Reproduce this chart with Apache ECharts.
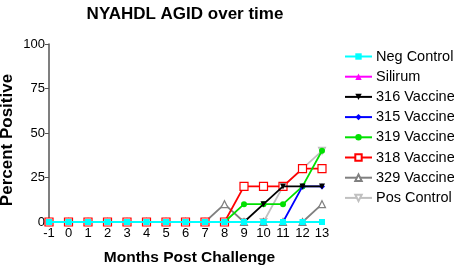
<!DOCTYPE html>
<html><head><meta charset="utf-8">
<script src="https://cdn.jsdelivr.net/npm/echarts@6/dist/echarts.min.js"></script>
<style>html,body{margin:0;padding:0;background:#fff}#c{width:454px;height:268px}</style>
</head><body><div id="c"></div>
<script>
var months = [-1,0,1,2,3,4,5,6,7,8,9,10,11,12,13];
var yTicks = [0,25,50,75,100];
var negControl = [0,0,0,0,0,0,0,0,0,0,0,0,0,0,0];
var silirum    = [0,0,0,0,0,0,0,0,0,0,0,0,0,0,0];
var vac316     = [0,0,0,0,0,0,0,0,0,0,0,10,20,20,20];
var vac315     = [0,0,0,0,0,0,0,0,0,0,0,0,0,20,20];
var vac319     = [0,0,0,0,0,0,0,0,0,0,10,10,10,20,40];
var vac318     = [0,0,0,0,0,0,0,0,0,0,20,20,20,30,30];
var vac329     = [0,0,0,0,0,0,0,0,0,10,0,0,0,0,10];
var posControl = [0,0,0,0,0,0,0,0,0,0,0,0,20,30,40];

var FONT = 'Liberation Sans, Arial, sans-serif';
function pts(arr){ return months.map(function(m,i){return [m, arr[i]];}); }
function mk(name, arr, color, symbol, size, open, z){
  return {
    name: name, type: 'line', data: pts(arr), symbol: symbol, symbolSize: size,
    z: z,
    lineStyle: {color: color, width: 1.8},
    itemStyle: {color: open ? '#fff' : color, borderColor: color, borderWidth: open ? 1.2 : 0},
    emphasis: {disabled: true}, animation: false
  };
}
var DOWN = 'path://M0,0 L10,0 L5,9 Z';
var series = [
  mk('Pos Control', posControl, '#c0c0c0', DOWN, 7, true, 2),
  mk('329 Vaccine', vac329, '#808080', 'triangle', 7, true, 3),
  mk('318 Vaccine', vac318, '#ff0000', 'rect', 8, true, 4),
  mk('319 Vaccine', vac319, '#00e000', 'circle', 6, false, 5),
  mk('315 Vaccine', vac315, '#0000ff', 'diamond', 6, false, 6),
  mk('316 Vaccine', vac316, '#000000', DOWN, 6, false, 7),
  mk('Silirum', silirum, '#ff00ff', 'triangle', 6, false, 8),
  mk('Neg Control', negControl, '#00ffff', 'rect', 6, false, 9)
];
var chart = echarts.init(document.getElementById('c'), null, {renderer:'canvas'});
chart.setOption({
  animation: false,
  textStyle: {fontFamily: FONT},
  title: {
    text: 'NYAHDL AGID over time', left: 180, top: 1, textAlign: 'center',
    textStyle: {fontSize: 17, fontWeight: 'bold', color: '#000', fontFamily: FONT}
  },
  legend: {
    orient: 'vertical', left: 339, top: 44, itemGap: 5.2, itemWidth: 27, itemHeight: 8,
    data: ['Neg Control','Silirum','316 Vaccine','315 Vaccine','319 Vaccine','318 Vaccine','329 Vaccine','Pos Control'],
    textStyle: {fontSize: 14.5, color: '#000', padding: [0,0,0,-1], fontFamily: FONT}
  },
  grid: {left: 49, right: 132, top: 44, bottom: 46, containLabel: false, outerBoundsMode: 'none'},
  xAxis: {
    type: 'value', min: -1, max: 13, interval: 1,
    name: 'Months Post Challenge', nameLocation: 'middle', nameGap: 28, nameMoveOverlap: false,
    nameTextStyle: {fontSize: 15.5, fontWeight: 'bold', color: '#000', fontFamily: FONT, padding: [0,0,0,8]},
    axisLine: {onZero: false, lineStyle: {color: '#555', width: 1.5}},
    axisTick: {length: 3, lineStyle: {color: '#555'}},
    axisLabel: {fontSize: 13, color: '#000', margin: 5, fontFamily: FONT},
    splitLine: {show: false}
  },
  yAxis: {
    type: 'value', min: 0, max: 100, interval: 25,
    name: 'Percent Positive', nameLocation: 'middle', nameGap: 33, nameMoveOverlap: false,
    nameTextStyle: {fontSize: 17, fontWeight: 'bold', color: '#000', fontFamily: FONT, padding: [0,14,0,0]},
    axisLine: {show: true, onZero: false, lineStyle: {color: '#555', width: 1.5}},
    axisTick: {show: true, length: 4, lineStyle: {color: '#555'}},
    axisLabel: {fontSize: 13, color: '#000', margin: 4, fontFamily: FONT,
      formatter: function(v){ return yTicks.indexOf(v) >= 0 ? String(v) : ''; }},
    splitLine: {show: false}
  },
  series: series
});
</script></body></html>
